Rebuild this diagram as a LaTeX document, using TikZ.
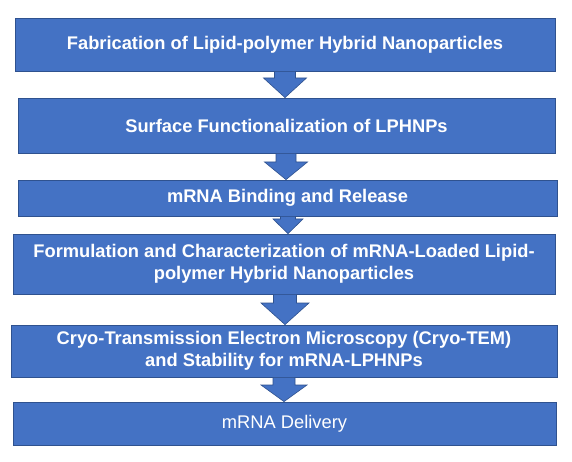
\documentclass[tikz,border=0pt]{standalone}
\usepackage{fontspec}
\setmainfont{Liberation Sans}
\usetikzlibrary{calc}
\definecolor{boxblue}{HTML}{4472C4}
\definecolor{edgeblue}{HTML}{2F528F}
\tikzset{
  stage/.style={rectangle, fill=boxblue, draw=edgeblue, line width=0.8pt, inner sep=0pt,
    text=white, font=\fontsize{18.3}{22}\selectfont\bfseries, align=center},
  plainstage/.style={stage, font=\fontsize{18.3}{22}\selectfont},
  arr/.style={fill=boxblue, draw=edgeblue, line width=0.6pt, line join=miter}
}
% #1 from node, #2 to node, #3 centre x, #4 half shaft, #5 half head, #6 head start y
\newcommand\blockarr[6]{%
  \draw[arr] let \p1=(#1.south), \p2=(#2.north) in
    ({(#3-#4)*1pt},\y1) -- ({(#3+#4)*1pt},\y1) -- ({(#3+#4)*1pt},{-#6pt}) --
    ({(#3+#5)*1pt},{-#6pt}) -- ({#3*1pt},\y2) -- ({(#3-#5)*1pt},{-#6pt}) --
    ({(#3-#4)*1pt},{-#6pt}) -- cycle;}
\begin{document}
\begin{tikzpicture}[x=1pt,y=-1pt]
\useasboundingbox[fill=white] (0,0) rectangle (572,462);
\node[stage, minimum width=540pt, minimum height=53pt] (b1) at (285,44.5)
  {Fabrication of Lipid-polymer Hybrid Nanoparticles};
\node[stage, minimum width=537pt, minimum height=55pt] (b2) at (286.5,125.5)
  {Surface Functionalization of LPHNPs};
\node[stage, minimum width=539pt, minimum height=36pt] (b3) at (287.5,198)
  {mRNA Binding and Release};
\node[stage, minimum width=542pt, minimum height=60pt] (b4) at (284,264)
  {Formulation and Characterization of mRNA-Loaded Lipid-\\polymer Hybrid Nanoparticles};
\node[stage, minimum width=546pt, minimum height=52pt] (b5) at (284,351)
  {Cryo-Transmission Electron Microscopy (Cryo-TEM)\\and Stability for mRNA-LPHNPs};
\node[plainstage, minimum width=543pt, minimum height=43pt] (b6) at (284.5,423.5)
  {mRNA Delivery};
\blockarr{b1}{b2}{285}{10.5}{21.5}{78}
\blockarr{b2}{b3}{286}{10}{21.5}{162}
\blockarr{b3}{b4}{288}{7.5}{15}{219}
\blockarr{b4}{b5}{285}{11.5}{24}{303}
\blockarr{b5}{b6}{284}{11}{23}{385}
\end{tikzpicture}
\end{document}
